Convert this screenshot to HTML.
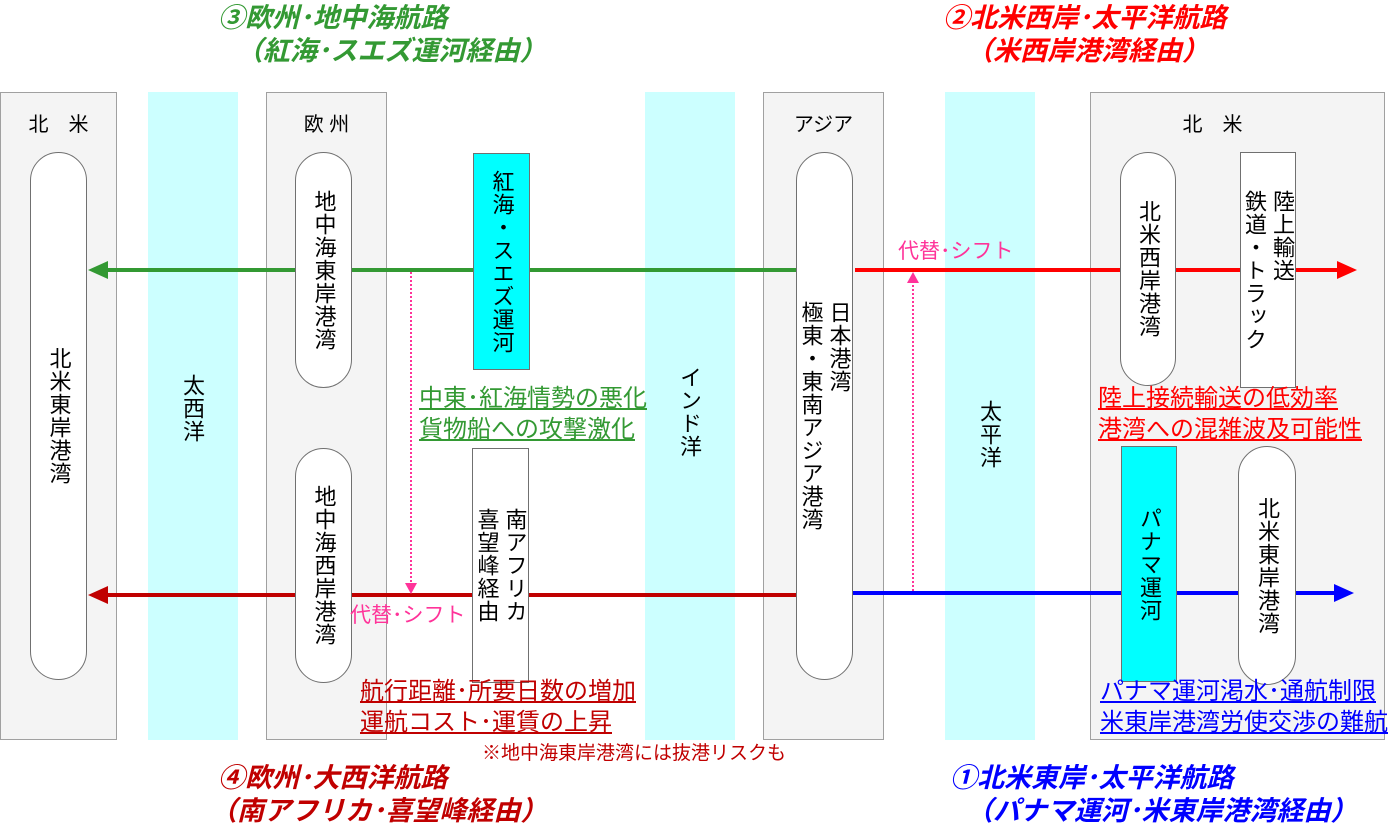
<!DOCTYPE html>
<html><head><meta charset="utf-8"><style>
body{margin:0;width:1400px;height:831px;background:#fff;position:relative;overflow:hidden;font-family:"Liberation Sans","Noto Sans CJK JP",sans-serif}
.a{position:absolute;box-sizing:border-box}
.p{background:#f4f4f4;border:1px solid #a0a0a0;top:92px;height:648px}
.c{background:#ccffff;top:92px;height:648px}
.pill{background:#fff;border:1px solid #707070;border-radius:29px;display:flex;align-items:center;justify-content:center}
.box{border:1px solid #707070;display:flex;align-items:center;justify-content:center}
.v{writing-mode:vertical-rl;font-size:22px;line-height:28px;color:#000;letter-spacing:1px}
.lbl{font-size:20px;color:#000}
.t{position:absolute;font-size:27px;font-weight:bold;font-style:italic;line-height:33px;white-space:nowrap}
.u{position:absolute;font-size:24px;text-decoration:underline;line-height:31px;white-space:nowrap}
</style></head><body>
<div class="a p" style="left:0;width:117px"></div>
<div class="a p" style="left:266px;width:121px"></div>
<div class="a p" style="left:763px;width:121px"></div>
<div class="a p" style="left:1090px;width:295px"></div>
<div class="a c" style="left:148px;width:90px"></div>
<div class="a c" style="left:645px;width:90px"></div>
<div class="a c" style="left:945px;width:90px"></div>
<div class="a lbl" style="left:0;width:117px;top:108px;text-align:center">北　米</div>
<div class="a lbl" style="left:266px;width:121px;top:108px;text-align:center">欧 州</div>
<div class="a lbl" style="left:763px;width:121px;top:108px;text-align:center">アジア</div>
<div class="a lbl" style="left:1090px;width:245px;top:108px;text-align:center">北　米</div>
<div class="a v" style="left:178px;top:374px">太西洋</div>
<div class="a v" style="left:675px;top:366px">インド洋</div>
<div class="a v" style="left:975px;top:400px">太平洋</div>

<svg class="a" style="left:0;top:0" width="1400" height="831">
<g stroke-width="4">
<line x1="797" y1="270" x2="105" y2="270" stroke="#339933"/>
<line x1="800" y1="595" x2="105" y2="595" stroke="#c00000"/>
<line x1="855" y1="270" x2="1340" y2="270" stroke="#ff0000"/>
<line x1="853" y1="593" x2="1338" y2="593" stroke="#0000ff"/>
</g>
<path d="M88,270L108,261L108,279z" fill="#339933"/>
<path d="M88,595L108,586L108,604z" fill="#c00000"/>
<path d="M1357,270L1337,261L1337,279z" fill="#ff0000"/>
<path d="M1354,593L1334,584L1334,602z" fill="#0000ff"/>
<g stroke="#ff3399" stroke-width="2" stroke-dasharray="2,2">
<line x1="411" y1="272" x2="411" y2="584"/>
<line x1="913" y1="591" x2="913" y2="282"/>
</g>
<path d="M405,583L417,583L411,594z" fill="#ff3399"/>
<path d="M907,283L919,283L913,272z" fill="#ff3399"/>
</svg>
<div class="a pill" style="left:30px;top:152px;width:57px;height:528px"><span class="v">北米東岸港湾</span></div>
<div class="a pill" style="left:796px;top:152px;width:57px;height:528px"><span class="v">日本港湾<br>極東・東南アジア港湾</span></div>
<div class="a pill" style="left:295px;top:152px;width:57px;height:236px"><span class="v">地中海東岸港湾</span></div>
<div class="a box" style="left:473px;top:153px;width:57px;height:217px;background:#00ffff"><span class="v">紅海・スエズ運河</span></div>
<div class="a pill" style="left:295px;top:448px;width:57px;height:235px"><span class="v">地中海西岸港湾</span></div>
<div class="a box" style="left:472px;top:448px;width:57px;height:235px;background:#fff"><span class="v">南アフリカ<br>喜望峰経由</span></div>
<div class="a pill" style="left:1120px;top:152px;width:56px;height:234px"><span class="v">北米西岸港湾</span></div>
<div class="a box" style="left:1240px;top:152px;width:56px;height:236px;background:#fff"><span class="v">陸上輸送<br>鉄道・トラック</span></div>
<div class="a box" style="left:1121px;top:446px;width:56px;height:236px;background:#00ffff"><span class="v">パナマ運河</span></div>
<div class="a pill" style="left:1238px;top:446px;width:58px;height:239px"><span class="v">北米東岸港湾</span></div>

<div class="a" style="left:898px;top:235px;font-size:21px;color:#ff3399;white-space:nowrap">代替･シフト</div>
<div class="a" style="left:350px;top:599px;font-size:21px;color:#ff3399;white-space:nowrap">代替･シフト</div>

<div class="t" style="left:218px;top:2px;color:#339933">③欧州･地中海航路</div>
<div class="t" style="left:236px;top:35px;color:#339933">（紅海･スエズ運河経由）</div>
<div class="t" style="left:943px;top:2px;color:#ff0000">②北米西岸･太平洋航路</div>
<div class="t" style="left:966px;top:35px;color:#ff0000">（米西岸港湾経由）</div>
<div class="t" style="left:218px;top:762px;color:#c00000">④欧州･大西洋航路</div>
<div class="t" style="left:210px;top:795px;color:#c00000">（南アフリカ･喜望峰経由）</div>
<div class="t" style="left:950px;top:762px;color:#0000ff">①北米東岸･太平洋航路</div>
<div class="t" style="left:966px;top:795px;color:#0000ff">（パナマ運河･米東岸港湾経由）</div>

<div class="u" style="left:419px;top:383px;color:#339933">中東･紅海情勢の悪化<br>貨物船への攻撃激化</div>
<div class="u" style="left:360px;top:676px;color:#c00000">航行距離･所要日数の増加<br>運航コスト･運賃の上昇</div>
<div class="a" style="left:482px;top:738px;font-size:19px;color:#c00000;white-space:nowrap">※地中海東岸港湾には抜港リスクも</div>
<div class="u" style="left:1098px;top:383px;color:#ff0000">陸上接続輸送の低効率<br>港湾への混雑波及可能性</div>
<div class="u" style="left:1100px;top:676px;color:#0000ff">パナマ運河渇水･通航制限<br>米東岸港湾労使交渉の難航</div>
</body></html>
